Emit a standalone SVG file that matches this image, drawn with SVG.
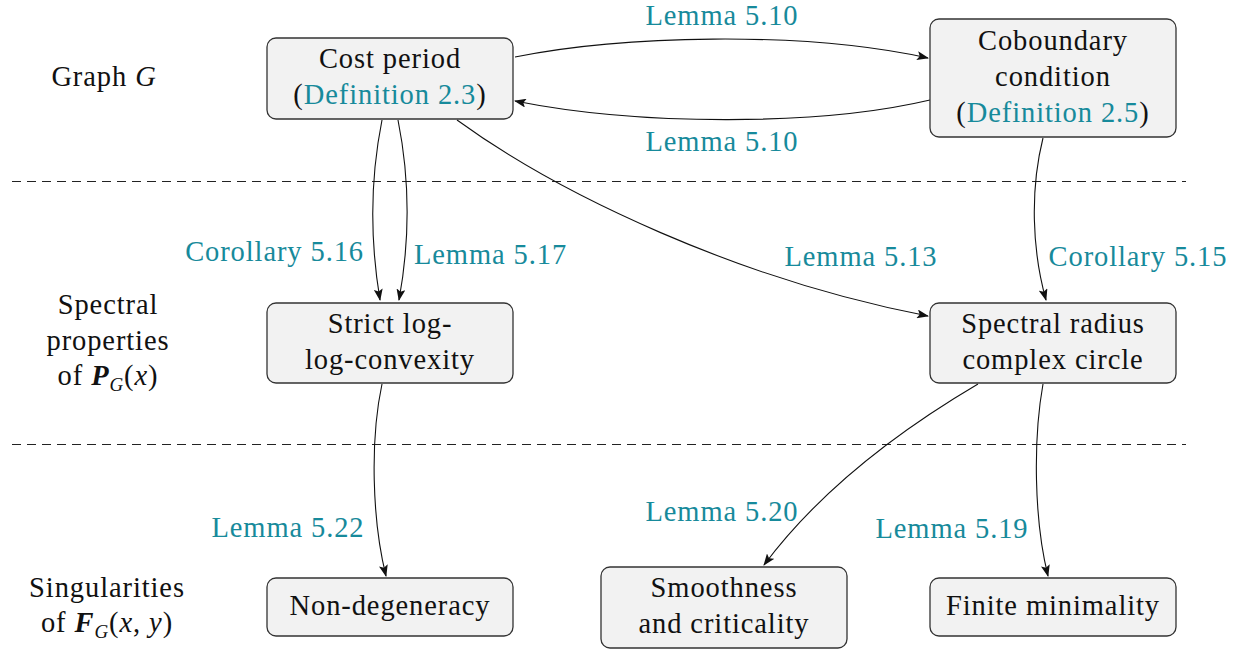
<svg xmlns="http://www.w3.org/2000/svg" width="1239" height="649" viewBox="0 0 1239 649" font-family="Liberation Serif, DejaVu Serif, serif">
<style>
text{font-family:'Liberation Serif','DejaVu Serif',serif;font-size:28.5px;fill:#111;letter-spacing:0.9px}
.c{text-anchor:middle}
.l{fill:#178a9b}
.box{fill:#f2f2f2;stroke:#333;stroke-width:1.3}
.e{fill:none;stroke:#111;stroke-width:1.1;marker-end:url(#ah)}
.dash{stroke:#222;stroke-width:1;stroke-dasharray:9 6}
.i{font-style:italic}
.b{font-style:italic;font-weight:bold}
</style>
<defs>
<marker id="ah" markerWidth="12" markerHeight="9" refX="11" refY="4.5" orient="auto" markerUnits="userSpaceOnUse">
<path d="M0,0 L12,4.5 L0,9 L2.5,4.5 z" fill="#111"/>
</marker>
</defs>
<rect width="1239" height="649" fill="#fff"/>
<g id="separators">
<line class="dash" x1="12" y1="181.5" x2="1186" y2="181.5"/>
<line class="dash" x1="12" y1="444.5" x2="1186" y2="444.5"/>
</g>
<g id="row-labels">
<text class="c" x="104" y="86">Graph <tspan class="i">G</tspan></text>
<text class="c" x="108" y="314">Spectral</text>
<text class="c" x="108" y="350">properties</text>
<text class="c" x="108" y="385">of <tspan class="b">P</tspan><tspan class="i" font-size="19" dy="6">G</tspan><tspan dy="-6">(</tspan><tspan class="i">x</tspan>)</text>
<text class="c" x="107" y="597">Singularities</text>
<text class="c" x="107" y="632">of <tspan class="b">F</tspan><tspan class="i" font-size="19" dy="6">G</tspan><tspan dy="-6">(</tspan><tspan class="i">x</tspan>, <tspan class="i">y</tspan>)</text>
</g>
<g id="connectors">
<path class="e" d="M515,57 C620,36 800,30 928,58"/>
<path class="e" d="M930,100 C820,126 640,126 515,101"/>
<path class="e" d="M382,120 C370,180 370,240 380,300"/>
<path class="e" d="M398,120 C410,180 410,240 399,300"/>
<path class="e" d="M457,120 C560,195 740,280 928,316"/>
<path class="e" d="M1043,138 C1030,190 1032,250 1046,300"/>
<path class="e" d="M382,384 C370,440 372,520 386,576"/>
<path class="e" d="M978,384 C900,430 820,490 764,565"/>
<path class="e" d="M1043,384 C1033,440 1034,520 1048,576"/>
</g>
<g id="edge-labels">
<text class="c l" x="722" y="25">Lemma 5.10</text>
<text class="c l" x="722" y="151">Lemma 5.10</text>
<text class="l" x="364" y="261" text-anchor="end">Corollary 5.16</text>
<text class="l" x="414" y="264">Lemma 5.17</text>
<text class="c l" x="861" y="266">Lemma 5.13</text>
<text class="c l" x="1138" y="266">Corollary 5.15</text>
<text class="c l" x="288" y="537">Lemma 5.22</text>
<text class="c l" x="722" y="521">Lemma 5.20</text>
<text class="c l" x="952" y="538">Lemma 5.19</text>
</g>
<g id="node-cost-period">
<rect class="box" x="267" y="38" width="246" height="81" rx="9"/>
<text class="c" x="390" y="68">Cost period</text>
<text class="c" x="390" y="104">(<tspan class="l">Definition 2.3</tspan>)</text>
</g>
<g id="node-coboundary">
<rect class="box" x="930" y="19" width="246" height="118" rx="9"/>
<text class="c" x="1053" y="50">Coboundary</text>
<text class="c" x="1053" y="86">condition</text>
<text class="c" x="1053" y="122">(<tspan class="l">Definition 2.5</tspan>)</text>
</g>
<g id="node-strict">
<rect class="box" x="267" y="303" width="246" height="80" rx="9"/>
<text class="c" x="390" y="333">Strict log-</text>
<text class="c" x="390" y="369">log-convexity</text>
</g>
<g id="node-spectral">
<rect class="box" x="930" y="303" width="246" height="80" rx="9"/>
<text class="c" x="1053" y="333">Spectral radius</text>
<text class="c" x="1053" y="369">complex circle</text>
</g>
<g id="node-nondegeneracy">
<rect class="box" x="267" y="578" width="246" height="58" rx="9"/>
<text class="c" x="390" y="615">Non-degeneracy</text>
</g>
<g id="node-smoothness">
<rect class="box" x="601" y="567" width="246" height="81" rx="9"/>
<text class="c" x="724" y="597">Smoothness</text>
<text class="c" x="724" y="633">and criticality</text>
</g>
<g id="node-finite">
<rect class="box" x="930" y="578" width="246" height="58" rx="9"/>
<text class="c" x="1053" y="615">Finite minimality</text>
</g>
</svg>
